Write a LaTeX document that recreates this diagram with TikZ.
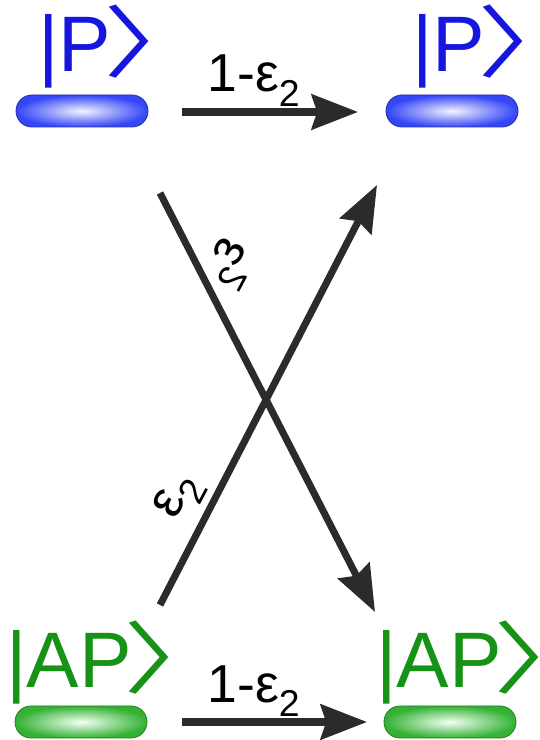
\documentclass[tikz,border=0pt]{standalone}
\usepackage{fontspec}
\usepackage{graphicx}
\setmainfont{Liberation Sans}
\newfontfamily\cjk{Noto Sans CJK SC}
\usetikzlibrary{arrows.meta,shapes.misc}
\definecolor{statblue}{RGB}{22,22,222}
\definecolor{pillblue}{RGB}{52,70,246}
\definecolor{statgreen}{RGB}{22,146,22}
\definecolor{pillgreen}{RGB}{52,178,52}
\definecolor{arrgray}{RGB}{43,43,43}
\newcommand{\ket}[1]{|#1\hspace{-0.1em}\makebox[0.52em][l]{\scalebox{1.4}[1.0]{\cjk 〉}}}
\begin{document}
\begin{tikzpicture}[
  pill/.style={rounded rectangle,minimum width=3.3cm,minimum height=0.8cm,inner sep=0pt,shading=radial,semithick},
  bluepill/.style={pill,inner color=blue!4,outer color=pillblue,draw=pillblue!70!black},
  greenpill/.style={pill,inner color=green!4!white,outer color=pillgreen,draw=pillgreen!70!black},
  ketlabel/.style={anchor=base west,inner sep=0pt,font=\fontsize{56}{60}\selectfont},
  prob/.style={inner sep=0pt,text=black,font=\fontsize{38}{42}\selectfont},
  trans/.style={arrgray,line width=5pt,-{Stealth[length=33pt,width=25pt,inset=4pt]}}]
\useasboundingbox (0,0) rectangle (13.475,18.5);
% states
\node[bluepill] (pTL) at (2.05,15.725) {};
\node[bluepill] (pTR) at (11.3,15.725) {};
\node[greenpill] (pBL) at (2.025,0.45) {};
\node[greenpill] (pBR) at (11.25,0.45) {};
\node[ketlabel,text=statblue] (kTL) at (0.95,16.7) {\ket{P}};
\node[ketlabel,text=statblue] (kTR) at (10.3,16.7) {\ket{P}};
\node[ketlabel,text=statgreen] (kBL) at (0.15,1.3) {\ket{AP}};
\node[ketlabel,text=statgreen] (kBR) at (9.4,1.3) {\ket{AP}};
% arrow ends
\coordinate (tA) at (4.55,15.7);
\coordinate (tB) at (8.95,15.7);
\coordinate (bA) at (4.55,0.45);
\coordinate (bB) at (9.175,0.45);
\coordinate (dA) at (4.0,13.675);
\coordinate (dB) at (9.375,3.2);
\coordinate (uA) at (4.0,3.375);
\coordinate (uB) at (9.425,13.875);
\draw[trans] (tA) -- (tB);
\draw[trans] (bA) -- (bB);
\draw[trans] (dA) -- (dB);
\draw[trans] (uA) -- (uB);
% probabilities
\node[prob,anchor=base] (lT) at (6.35,16.2) {1-ε\textsubscript{2}};
\node[prob,anchor=base] (lB) at (6.35,0.95) {1-ε\textsubscript{2}};
\node[prob,rotate=-118,yscale=-1] (lD) at (5.75,11.9) {ε\textsubscript{2}};
\node[prob,rotate=62] (lU) at (4.5,6.075) {ε\textsubscript{2}};
\end{tikzpicture}
\end{document}
